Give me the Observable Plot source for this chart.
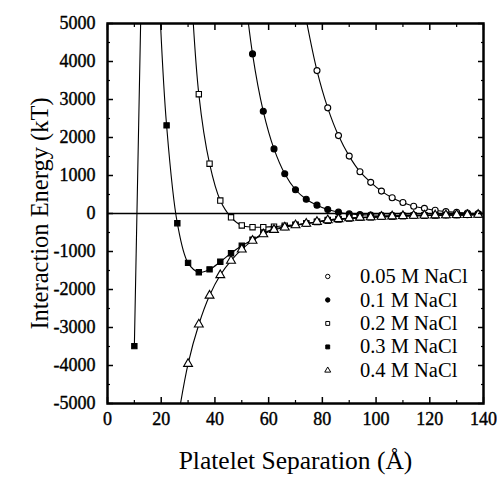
<!DOCTYPE html>
<html>
<head>
<meta charset="utf-8">
<script src="https://cdn.jsdelivr.net/npm/d3@7"></script>
<script src="https://cdn.jsdelivr.net/npm/@observablehq/plot@0.6"></script>
<style>
  html, body { margin: 0; padding: 0; background: #fff; }
  svg { display: block; }
  svg text { font-family: "Liberation Serif", "Times New Roman", serif !important; }
</style>
</head>
<body>
<div id="chart"></div>
<script>
// ---- data ----
const labels = ["0.05 M NaCl", "0.1 M NaCl", "0.2 M NaCl", "0.3 M NaCl", "0.4 M NaCl"];

const x005 = [78,82,86,90,94,98,102,106,110,114,118,122,126,130,134,138];
const y005 = [3760,2780,2050,1510,1100,820,590,415,290,190,135,85,50,30,12,0];

const x01 = [54,58,62,66,70,74,78,82,86,90,94,98,102,106,110,114,118,122,126,130,134,138];
const y01 = [4200,2690,1700,1045,625,375,220,105,35,-10,-30,-40,-45,-45,-45,-42,-40,-38,-35,-32,-30,-28];

const x02 = [34,38,42,46,50,54,58,62,66,70,74,78,82,86,90,94,98,102,106,110,114,118,122,126,130,134,138];
const y02 = [3140,1310,340,-100,-315,-360,-360,-345,-320,-295,-265,-225,-190,-160,-135,-115,-100,-88,-78,-68,-60,-54,-48,-43,-39,-35,-32];

const x03 = [10,22,26,30,34,38,42,46,50,54,58,62,66,70,74,78,82,86,90,94,98,102,106,110,114,118,122,126,130,134,138];
const y03 = [-3490,2320,-255,-1300,-1545,-1470,-1270,-1045,-850,-690,-525,-405,-355,-300,-265,-215,-172,-142,-122,-106,-95,-83,-73,-64,-57,-51,-46,-42,-38,-35,-32];

const x04 = [30,34,38,42,46,50,54,58,62,66,70,74,78,82,86,90,94,98,102,106,110,114,118,122,126,130,134,138];
const y04 = [-3955,-2920,-2160,-1620,-1240,-945,-715,-545,-430,-365,-308,-268,-218,-175,-145,-124,-108,-96,-85,-75,-66,-58,-52,-47,-43,-39,-36,-33];

// where the curves run off the frame
const ext005 = [[74, 5100]];
const ext01 = [[50, 6560]];
const ext02 = [[30, 7530]];
const ext03Left = [[12.5, 5600]];   // after the 10 Å point
const ext03Right = [[19.5, 5360]];  // before the 22 Å point
const ext04 = [[26, -5500]];

const xMajor = [0,20,40,60,80,100,120,140];
const xMinor = [10,30,50,70,90,110,130];
const yMajor = [-5000,-4000,-3000,-2000,-1000,0,1000,2000,3000,4000,5000];
const yMinor = [-4500,-3500,-2500,-1500,-500,500,1500,2500,3500,4500];

// ---- build tables ----
const pts = (xs, ys) => xs.map((x, i) => ({x, y: ys[i]}));
const P = (arr) => arr.map(([x, y]) => ({x, y}));

const series = [
  {name: labels[0], symbol: "circle", fill: "white", pts: pts(x005, y005)},
  {name: labels[1], symbol: "circle", fill: "black", pts: pts(x01, y01)},
  {name: labels[2], symbol: "square", fill: "white", pts: pts(x02, y02)},
  {name: labels[3], symbol: "square", fill: "black", pts: pts(x03, y03)},
  {name: labels[4], symbol: "triangle", fill: "white", pts: pts(x04, y04)}
];
series[0].line = [...P(ext005), ...series[0].pts];
series[1].line = [...P(ext01), ...series[1].pts];
series[2].line = [...P(ext02), ...series[2].pts];
series[3].line = [series[3].pts[0], ...P(ext03Left), {x: 16, y: null}, ...P(ext03Right), ...series[3].pts.slice(1)];
series[4].line = [...P(ext04), ...series[4].pts];

// legend layout (data space inside the frame)
const legX = 82, legTextX = 94, legY0 = -1657, legStep = -618;

const font = "'Liberation Serif', 'Times New Roman', serif";
const fmt = d => String(d);

const marks = [
  Plot.ruleY([0], {stroke: "black", strokeWidth: 1.3}),
  ...series.map(s => Plot.line(s.line, {x: "x", y: "y", curve: "catmull-rom", stroke: "black", strokeWidth: 1.1, clip: true})),
  ...series.map(s => Plot.dot(s.pts, {x: "x", y: "y", symbol: s.symbol, r: s.symbol === "triangle" ? 3.3 : 3, fill: s.fill, stroke: "black", strokeWidth: 1.1, clip: true})),
  ...series.map((s, i) => Plot.dot([s.name], {x: () => legX, y: () => legY0 + i * legStep, symbol: s.symbol, r: 2.2, fill: s.fill, stroke: "black", strokeWidth: 1})),
  ...series.map((s, i) => Plot.text([s.name], {x: () => legTextX, y: () => legY0 + i * legStep, text: d => d, textAnchor: "start", lineAnchor: "middle", fontSize: 20.5, fontFamily: font, fill: "black"})),
  Plot.frame({stroke: "black", strokeWidth: 2.5}),
  // inward ticks on all four sides
  Plot.axisX(xMajor, {anchor: "bottom", tickSize: -6, fill: "none", strokeWidth: 1.5}),
  Plot.axisX(xMinor, {anchor: "bottom", tickSize: -3, fill: "none", strokeWidth: 1.2}),
  Plot.axisX(xMajor, {anchor: "top", tickSize: -6, fill: "none", strokeWidth: 1.5}),
  Plot.axisX(xMinor, {anchor: "top", tickSize: -3, fill: "none", strokeWidth: 1.2}),
  Plot.axisY(yMajor, {anchor: "left", tickSize: -6, fill: "none", strokeWidth: 1.5}),
  Plot.axisY(yMinor, {anchor: "left", tickSize: -3, fill: "none", strokeWidth: 1.2}),
  Plot.axisY(yMajor, {anchor: "right", tickSize: -6, fill: "none", strokeWidth: 1.5}),
  Plot.axisY(yMinor, {anchor: "right", tickSize: -3, fill: "none", strokeWidth: 1.2}),
  // tick labels
  Plot.axisX(xMajor, {anchor: "bottom", tickSize: 0, tickPadding: 9, tickFormat: fmt, label: null, fontSize: 18, fontFamily: font, fill: "black", textStroke: "black", textStrokeWidth: 0.4}),
  Plot.axisY(yMajor, {anchor: "left", tickSize: 0, tickPadding: 12, tickFormat: fmt, label: null, fontSize: 18, fontFamily: font, fill: "black", textStroke: "black", textStrokeWidth: 0.4}),
  // axis titles
  Plot.text(["Platelet Separation (Å)"], {frameAnchor: "bottom", dy: 57, text: d => d, textAnchor: "middle", lineAnchor: "middle", fontSize: 25.5, fontFamily: font, fill: "black"}),
  Plot.text(["Interaction Energy (kT)"], {frameAnchor: "left", dx: -67, rotate: -90, text: d => d, textAnchor: "middle", lineAnchor: "middle", fontSize: 24.5, fontFamily: font, fill: "black"})
];

const chart = Plot.plot({
  width: 497,
  height: 478,
  marginLeft: 107,
  marginRight: 14,
  marginTop: 23,
  marginBottom: 75,
  style: {fontFamily: font, background: "white", color: "black", overflow: "visible"},
  x: {domain: [0, 140]},
  y: {domain: [-5000, 5000]},
  marks
});
document.getElementById("chart").appendChild(chart);
</script>
</body>
</html>
